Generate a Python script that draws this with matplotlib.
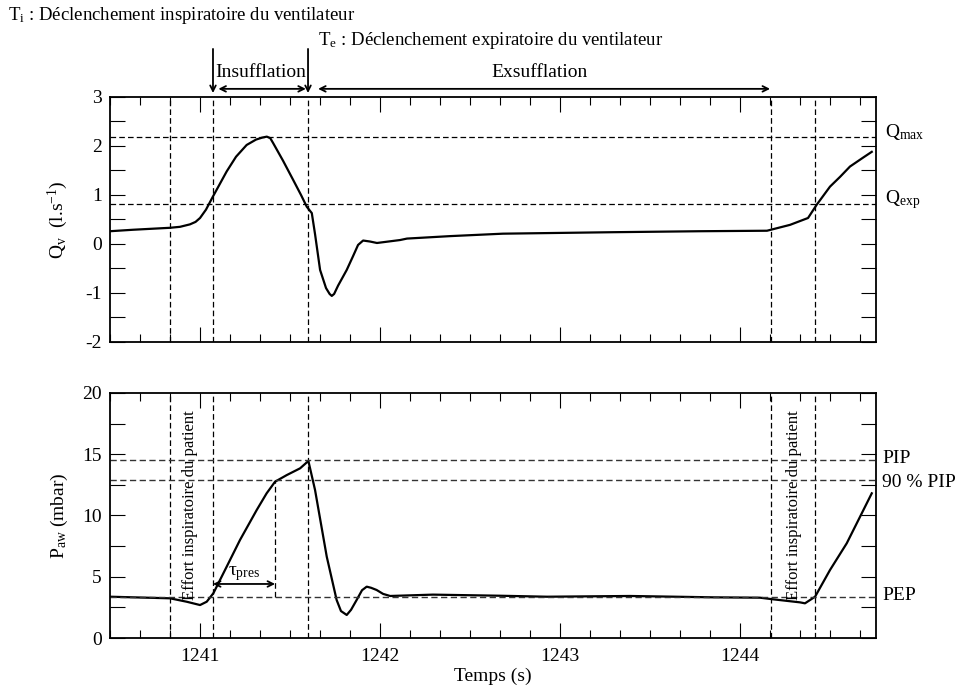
import matplotlib.pyplot as plt
from matplotlib.ticker import MultipleLocator, AutoMinorLocator

plt.rcParams['font.family'] = 'Liberation Serif'
plt.rcParams['mathtext.fontset'] = 'custom'
plt.rcParams['mathtext.rm'] = 'Liberation Serif'
plt.rcParams['mathtext.it'] = 'Liberation Serif:italic'
plt.rcParams['mathtext.default'] = 'regular'
plt.rcParams['axes.unicode_minus'] = False

# flow signal Qv (l/s)
t_flow = [1240.5, 1240.628, 1240.833, 1240.889, 1240.944, 1240.975, 1241.0, 1241.033, 1241.072,
          1241.148, 1241.2, 1241.259, 1241.311, 1241.345, 1241.371, 1241.39, 1241.406, 1241.461,
          1241.517, 1241.561, 1241.593, 1241.621, 1241.639, 1241.667, 1241.7, 1241.72, 1241.732,
          1241.745, 1241.767, 1241.815, 1241.85, 1241.878, 1241.906, 1241.944, 1241.983, 1242.111,
          1242.15, 1242.389, 1242.683, 1243.294, 1243.778, 1244.15, 1244.278, 1244.378, 1244.426,
          1244.5, 1244.556, 1244.611, 1244.683, 1244.732]
q_flow = [0.26, 0.29, 0.33, 0.35, 0.40, 0.45, 0.53, 0.70, 0.97,
          1.48, 1.78, 2.02, 2.13, 2.17, 2.19, 2.16, 2.06, 1.70,
          1.31, 1.00, 0.76, 0.63, 0.20, -0.53, -0.90, -1.02, -1.06,
          -1.02, -0.85, -0.53, -0.25, -0.02, 0.07, 0.05, 0.02, 0.08,
          0.11, 0.16, 0.21, 0.24, 0.26, 0.27, 0.39, 0.53, 0.80,
          1.17, 1.37, 1.58, 1.76, 1.88]

# airway pressure Paw (mbar)
t_paw = [1240.5, 1240.628, 1240.833, 1240.926, 1241.0, 1241.037, 1241.074, 1241.148,
         1241.222, 1241.315, 1241.37, 1241.417, 1241.482, 1241.556, 1241.602, 1241.639,
         1241.704, 1241.759, 1241.783, 1241.815, 1241.839, 1241.87, 1241.9, 1241.926,
         1241.95, 1241.981, 1242.017, 1242.056, 1242.294, 1242.667, 1242.928, 1243.389,
         1243.85, 1244.111, 1244.183, 1244.333, 1244.361, 1244.417, 1244.5, 1244.593,
         1244.667, 1244.732]
p_aw = [3.37, 3.32, 3.24, 2.96, 2.69, 2.96, 3.65, 5.82,
        8.0, 10.45, 11.81, 12.76, 13.3, 13.85, 14.45, 12.08,
        6.64, 3.1, 2.2, 1.88, 2.3, 3.1, 3.9, 4.19,
        4.1, 3.92, 3.6, 3.43, 3.54, 3.45, 3.37, 3.43,
        3.32, 3.29, 3.16, 2.91, 2.83, 3.37, 5.55, 7.73,
        9.9, 11.81]

# event times (s)
t_events = [1240.833, 1241.072, 1241.6, 1244.172, 1244.417]
t_ti, t_te, t_end = 1241.072, 1241.6, 1244.172
t_effort = [1240.944, 1244.3]
t_90pip = 1241.417

# reference levels
q_max = 2.18
q_exp = 0.82
pip = 14.5
pip90 = 12.9
pep = 3.37

dash = (0, (4.5, 2.5))
fig = plt.figure(figsize=(9.56, 6.91), dpi=100)
ax1 = fig.add_axes([0.1151, 0.5051, 0.8013, 0.3546])
ax2 = fig.add_axes([0.1151, 0.0767, 0.8013, 0.3546])

for ax in (ax1, ax2):
    ax.set_xlim(1240.5, 1244.756)
    ax.xaxis.set_major_locator(MultipleLocator(1))
    ax.xaxis.set_minor_locator(AutoMinorLocator(6))
    ax.tick_params(which='both', direction='in', top=True, right=True, width=0.8, labelsize=14)
    ax.tick_params(axis='x', which='major', length=11, pad=7)
    ax.tick_params(axis='x', which='minor', length=5.5)
    ax.tick_params(axis='y', which='both', length=11, pad=6)
    for s in ax.spines.values():
        s.set_linewidth(1.3)
    for t in t_events:
        ax.axvline(t, color='k', lw=0.9, ls=dash)

# top panel: flow
ax1.plot(t_flow, q_flow, color='k', lw=1.6)
ax1.set_ylim(-2, 3)
ax1.yaxis.set_major_locator(MultipleLocator(1))
ax1.yaxis.set_minor_locator(MultipleLocator(0.5))
ax1.tick_params(axis='x', labelbottom=False)
ax1.axhline(q_max, color='k', lw=0.9, ls=dash)
ax1.axhline(q_exp, color='k', lw=0.9, ls=dash)
ax1.set_ylabel('Q$_v$  (l.s$^{-1}$)', fontsize=14)
ax1.yaxis.set_label_coords(-0.052, 0.5)
ax1.text(1.012, q_max, 'Q$_{max}$', transform=ax1.get_yaxis_transform(), fontsize=14, va='baseline')
ax1.text(1.012, q_exp, 'Q$_{exp}$', transform=ax1.get_yaxis_transform(), fontsize=14, va='baseline')

tr = ax1.get_xaxis_transform()
for t in (t_ti, t_te):
    ax1.annotate('', xy=(t, 1.016), xytext=(t, 1.196), xycoords=tr, textcoords=tr,
                 arrowprops=dict(arrowstyle='->', color='k', lw=1.3, shrinkA=0, shrinkB=0),
                 annotation_clip=False)
ax1.annotate('', xy=(t_ti + 0.03, 1.033), xytext=(t_te - 0.012, 1.033), xycoords=tr, textcoords=tr,
             arrowprops=dict(arrowstyle='<->', color='k', lw=1.3, shrinkA=0, shrinkB=0),
             annotation_clip=False)
ax1.annotate('', xy=(t_te + 0.056, 1.033), xytext=(t_end - 0.005, 1.033), xycoords=tr, textcoords=tr,
             arrowprops=dict(arrowstyle='<->', color='k', lw=1.3, shrinkA=0, shrinkB=0),
             annotation_clip=False)
ax1.text((t_ti + t_te) / 2, 1.098, 'Insufflation', transform=tr, fontsize=14, ha='center', va='center')
ax1.text((t_te + t_end) / 2, 1.098, 'Exsufflation', transform=tr, fontsize=14, ha='center', va='center')

fig.text(0.008, 0.978, 'T$_i$ : Déclenchement inspiratoire du ventilateur', fontsize=13.5, va='center')
fig.text(0.333, 0.942, 'T$_e$ : Déclenchement expiratoire du ventilateur', fontsize=13.5, va='center')

# bottom panel: pressure
ax2.plot(t_paw, p_aw, color='k', lw=1.6)
ax2.set_ylim(0, 20)
ax2.yaxis.set_major_locator(MultipleLocator(5))
ax2.yaxis.set_minor_locator(MultipleLocator(2.5))
for lvl in (pip, pip90, pep):
    ax2.axhline(lvl, color='#333333', lw=1.0, ls=dash)
ax2.plot([t_90pip, t_90pip], [pep, pip90], color='k', lw=0.9, ls=dash)
ax2.set_ylabel('P$_{aw}$ (mbar)', fontsize=14)
ax2.yaxis.set_label_coords(-0.052, 0.5)
ax2.set_xlabel('Temps (s)', fontsize=14, labelpad=2)
ytr = ax2.get_yaxis_transform()
ax2.text(1.008, pip - 0.25, 'PIP', transform=ytr, fontsize=14, va='baseline')
ax2.text(1.008, pip90 - 0.55, '90 % PIP', transform=ytr, fontsize=14, va='baseline')
ax2.text(1.008, pep - 0.25, 'PEP', transform=ytr, fontsize=14, va='baseline')
xtr = ax2.get_xaxis_transform()
for t in t_effort:
    ax2.text(t, 0.543, 'Effort inspiratoire du patient', transform=xtr, fontsize=12,
             rotation=90, ha='center', va='center')
ax2.annotate('', xy=(t_ti, 4.41), xytext=(t_90pip, 4.41),
             arrowprops=dict(arrowstyle='<->', color='k', lw=1.3, shrinkA=0, shrinkB=0))
ax2.text((t_ti + t_90pip) / 2, 5.1, 'τ$_{pres}$', fontsize=14, ha='center', va='baseline')

fig.savefig('out.png', dpi=100)
